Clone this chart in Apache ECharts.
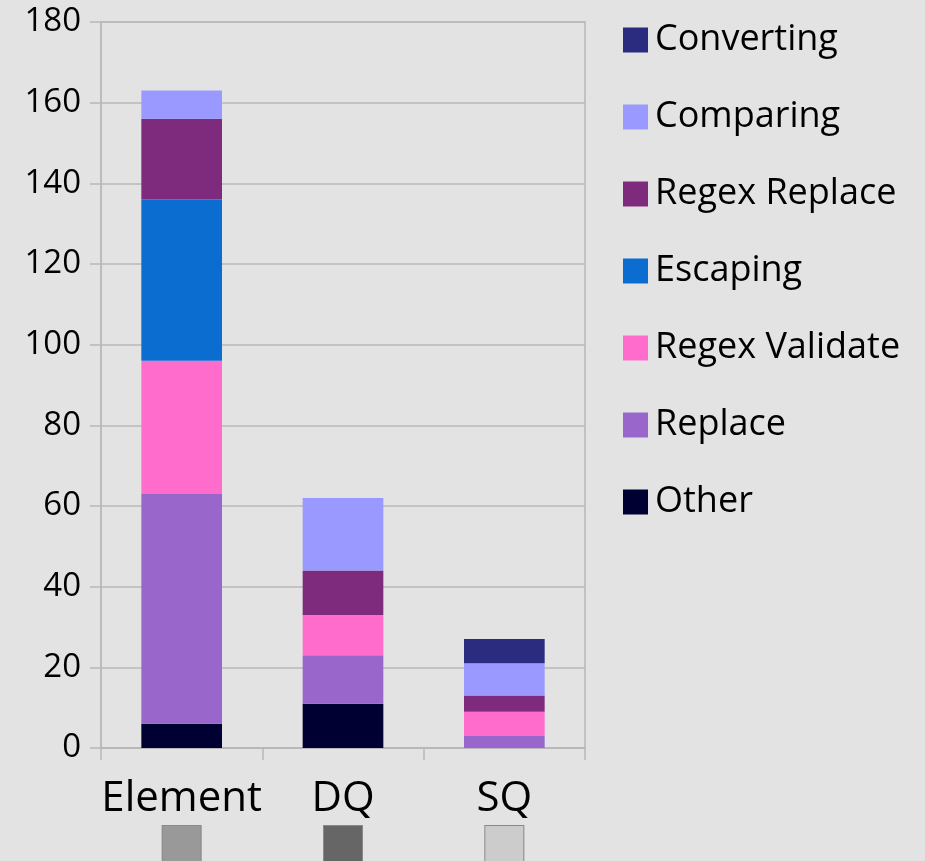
<!DOCTYPE html>
<html>
<head>
<meta charset="utf-8">
<script src="https://cdn.jsdelivr.net/npm/echarts@6/dist/echarts.min.js"></script>
<style>
  html, body { margin: 0; padding: 0; background: #e3e3e3; }
  #chart { width: 925px; height: 861px; }
</style>
</head>
<body>
<div id="chart"></div>
<script>
// Categories along the x axis
const categories = ['Element', 'DQ', 'SQ'];
// Colour swatch drawn under each category name
const categorySwatches = ['#999999', '#666666', '#cccccc'];

// Stacked segments, bottom to top
const seriesNames = ['Other', 'Replace', 'Regex Validate', 'Escaping', 'Regex Replace', 'Comparing', 'Converting'];
const other         = [6, 11, 0];
const replace       = [57, 12, 3];
const regexValidate = [33, 10, 6];
const escaping      = [40, 0, 0];
const regexReplace  = [20, 11, 4];
const comparing     = [7, 18, 8];
const converting    = [0, 0, 6];

const seriesColors = ['#000033', '#9966cc', '#ff6ccc', '#0c6dd0', '#7e2b7e', '#9999ff', '#2b2b7f'];
const seriesValues = [other, replace, regexValidate, escaping, regexReplace, comparing, converting];

const FONT = '"Open Sans", "DejaVu Sans", sans-serif';

const rich = {
  name: { fontFamily: FONT, fontSize: 42, color: '#000', lineHeight: 50, padding: [0, 0, 4, 0] }
};
categories.forEach((c, i) => {
  rich['sw' + i] = {
    backgroundColor: categorySwatches[i],
    borderColor: '#888',
    borderWidth: 1,
    width: 38,
    height: 40
  };
});

const chart = echarts.init(document.getElementById('chart'));
chart.setOption({
  backgroundColor: '#e3e3e3',
  animation: false,
  grid: {
    left: 101, right: 340, top: 22, bottom: 113,
    outerBoundsMode: 'none',
    containLabel: false,
    show: true, borderColor: '#b8b8b8', borderWidth: 1.5, backgroundColor: 'transparent'
  },
  legend: {
    orient: 'vertical',
    left: 618,
    top: 15,
    itemWidth: 25,
    itemHeight: 25,
    itemGap: 37,
    icon: 'rect',
    data: seriesNames.slice().reverse(),
    textStyle: { fontFamily: FONT, fontSize: 36, lineHeight: 40, color: '#000', padding: [0, 0, 0, 2] }
  },
  xAxis: {
    type: 'category',
    data: categories,
    axisLine: { lineStyle: { color: '#b8b8b8', width: 1.5 } },
    axisTick: { show: true, length: 12, lineStyle: { color: '#b8b8b8', width: 1.5 } },
    axisLabel: {
      margin: 28,
      formatter: (v, i) => '{name|' + v + '}\n{sw' + i + '|}',
      rich: rich
    }
  },
  yAxis: {
    type: 'value',
    min: 0, max: 180, interval: 20,
    axisLine: { show: true, lineStyle: { color: '#b8b8b8', width: 1.5 } },
    axisTick: { show: true, length: 11, lineStyle: { color: '#b8b8b8', width: 1.5 } },
    splitLine: { lineStyle: { color: '#b8b8b8', width: 1.5 } },
    axisLabel: { fontFamily: FONT, fontSize: 33, color: '#000', margin: 20 }
  },
  series: seriesNames.map((name, i) => ({
    name: name,
    type: 'bar',
    stack: 'total',
    barWidth: '50%',
    itemStyle: { color: seriesColors[i] },
    data: seriesValues[i]
  }))
});
</script>
</body>
</html>
